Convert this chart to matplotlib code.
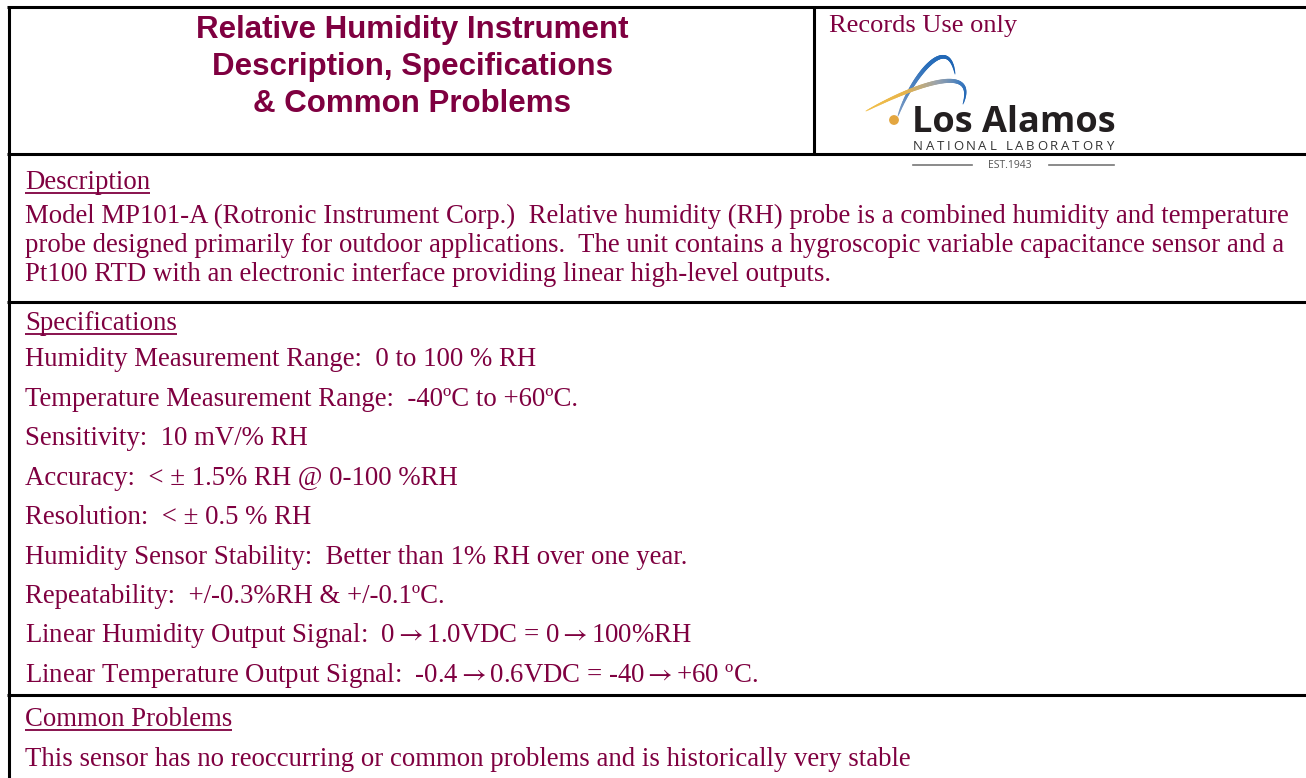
import numpy as np
import matplotlib
matplotlib.use("Agg")
import matplotlib.pyplot as plt
from matplotlib.collections import LineCollection
from matplotlib.colors import LinearSegmentedColormap

# ---- content ----
title_lines = ["Relative Humidity Instrument",
               "Description, Specifications",
               "& Common Problems"]
records_label = "Records Use only"
logo_name = "Los Alamos"
logo_sub = "NATIONAL LABORATORY"
logo_est = "EST.1943"

section_headers = ["Description", "Specifications", "Common Problems"]
description_lines = [
    "Model MP101-A (Rotronic Instrument Corp.)  Relative humidity (RH) probe is a combined humidity and temperature",
    "probe designed primarily for outdoor applications.  The unit contains a hygroscopic variable capacitance sensor and a",
    "Pt100 RTD with an electronic interface providing linear high-level outputs.",
]
spec_lines = [
    "Humidity Measurement Range:  0 to 100 % RH",
    "Temperature Measurement Range:  -40ºC to +60ºC.",
    "Sensitivity:  10 mV/% RH",
    "Accuracy:  < ± 1.5% RH @ 0-100 %RH",
    "Resolution:  < ± 0.5 % RH",
    "Humidity Sensor Stability:  Better than 1% RH over one year.",
    "Repeatability:  +/-0.3%RH & +/-0.1ºC.",
    r"Linear Humidity Output Signal:  0$\rightarrow$1.0VDC = 0$\rightarrow$100%RH",
    r"Linear Temperature Output Signal:  -0.4$\rightarrow$0.6VDC = -40$\rightarrow$+60 ºC.",
]
problem_lines = [
    "This sensor has no reoccurring or common problems and is historically very stable",
]

# ---- style ----
W, H = 1306, 778
maroon = "#7f0040"
serif = ["Liberation Serif", "DejaVu Serif"]
plt.rcParams["mathtext.fontset"] = "stix"
title_family = ["Liberation Sans", "Arial", "DejaVu Sans"]

fig = plt.figure(figsize=(W / 100, H / 100), dpi=100)
ax = fig.add_axes([0, 0, 1, 1])
ax.set_xlim(0, W)
ax.set_ylim(H, 0)
ax.axis("off")

lw = 2.2
# table borders
ax.plot([7, W], [7, 7], color="black", lw=lw, solid_capstyle="butt")
ax.plot([8.5, 8.5], [6, H], color="black", lw=lw, solid_capstyle="butt")
ax.plot([814, 814], [7, 154], color="black", lw=lw, solid_capstyle="butt")
for yy in [154, 302, 695]:
    ax.plot([7, W], [yy, yy], color="black", lw=lw, solid_capstyle="butt")

# title
for i, t in enumerate(title_lines):
    ax.text(412, 38 + i * 36.8, t, color=maroon, fontsize=22.5, fontweight="bold",
            family=title_family, ha="center", va="baseline")

ax.text(829, 32, records_label, color=maroon, fontsize=19, family=serif, va="baseline")

# logo arcs
def bez(p, n=80):
    p = np.array(p, float)
    t = np.linspace(0, 1, n)[:, None]
    return ((1 - t) ** 3) * p[0] + 3 * ((1 - t) ** 2) * t * p[1] + 3 * (1 - t) * t ** 2 * p[2] + t ** 3 * p[3]

def grad_line(pts, cmap, widths):
    segs = np.stack([pts[:-1], pts[1:]], axis=1)
    lc = LineCollection(segs, cmap=cmap, linewidths=widths, capstyle="round")
    lc.set_array(np.linspace(0, 1, len(segs)))
    ax.add_collection(lc)

blue_cmap = LinearSegmentedColormap.from_list("b", ["#7d9cc4", "#2a6fbb", "#1c63b3"])
mix_cmap = LinearSegmentedColormap.from_list("m", ["#f2c04a", "#e8b44a", "#9aa3ad", "#3f7cc0", "#1c63b3"])
p1 = bez([(898, 116), (910, 80), (948, 30), (955, 74)])
tt = np.linspace(0, 1, len(p1) - 1)
grad_line(p1, blue_cmap, 0.6 + 2.4 * np.sin(np.pi * tt) ** 0.7)
p2 = bez([(866, 111), (915, 85), (978, 62), (963, 104)])
grad_line(p2, mix_cmap, 0.6 + 2.4 * np.sin(np.pi * tt) ** 0.7)
ax.add_patch(plt.Circle((894, 120), 4.2, color="#e3a640", zorder=5))

ax.text(1014, 132, logo_name, color="#231f20", fontsize=26, fontweight="bold",
        family=["Open Sans", "DejaVu Sans"], ha="center", va="baseline")
ax.text(1010, 168, logo_est, color="#555555", fontsize=7.5,
        family=["Open Sans", "DejaVu Sans"], ha="center", va="baseline")
ax.plot([913, 972], [165, 165], color="#777777", lw=1.2)
ax.plot([1049, 1114], [165, 165], color="#777777", lw=1.2)

# sections
body_fs = 19.3
hdr = []
hdr.append(ax.text(25, 189, section_headers[0], color=maroon, fontsize=body_fs, family=serif, va="baseline"))
for i, t in enumerate(description_lines):
    ax.text(25, 223 + i * 29, t, color=maroon, fontsize=body_fs, family=serif, va="baseline")

hdr.append(ax.text(25, 330, section_headers[1], color=maroon, fontsize=body_fs, family=serif, va="baseline"))
for i, t in enumerate(spec_lines):
    ax.text(25, 366 + i * 39.5, t, color=maroon, fontsize=body_fs, family=serif, va="baseline")

hdr.append(ax.text(25, 726, section_headers[2], color=maroon, fontsize=body_fs, family=serif, va="baseline"))
for i, t in enumerate(problem_lines):
    ax.text(25, 766 + i * 29, t, color=maroon, fontsize=body_fs, family=serif, va="baseline")

# underlines for headers + tracked logo subtitle
fig.canvas.draw()
r = fig.canvas.get_renderer()
inv = ax.transData.inverted()
for t in hdr:
    bb = t.get_window_extent(r)
    (x0, _), (x1, _) = inv.transform([(bb.x0, bb.y0), (bb.x1, bb.y0)])
    yb = t.get_position()[1] + 4
    ax.plot([x0, x1], [yb, yb], color=maroon, lw=1.3, solid_capstyle="butt")

sub_kw = dict(color="#333333", fontsize=9.5, family=["Open Sans", "DejaVu Sans"], va="baseline")
chars = [ax.text(0, 150, c, **sub_kw) for c in logo_sub]
fig.canvas.draw()
widths = []
for c in chars:
    bb = c.get_window_extent(r)
    widths.append(bb.width)
span = 1113 - 913
extra = (span - sum(widths)) / (len(chars) - 1)
x = 913.0
for c, wdt in zip(chars, widths):
    c.set_x(x)
    x += wdt + extra

fig.savefig("out.png", dpi=100)
